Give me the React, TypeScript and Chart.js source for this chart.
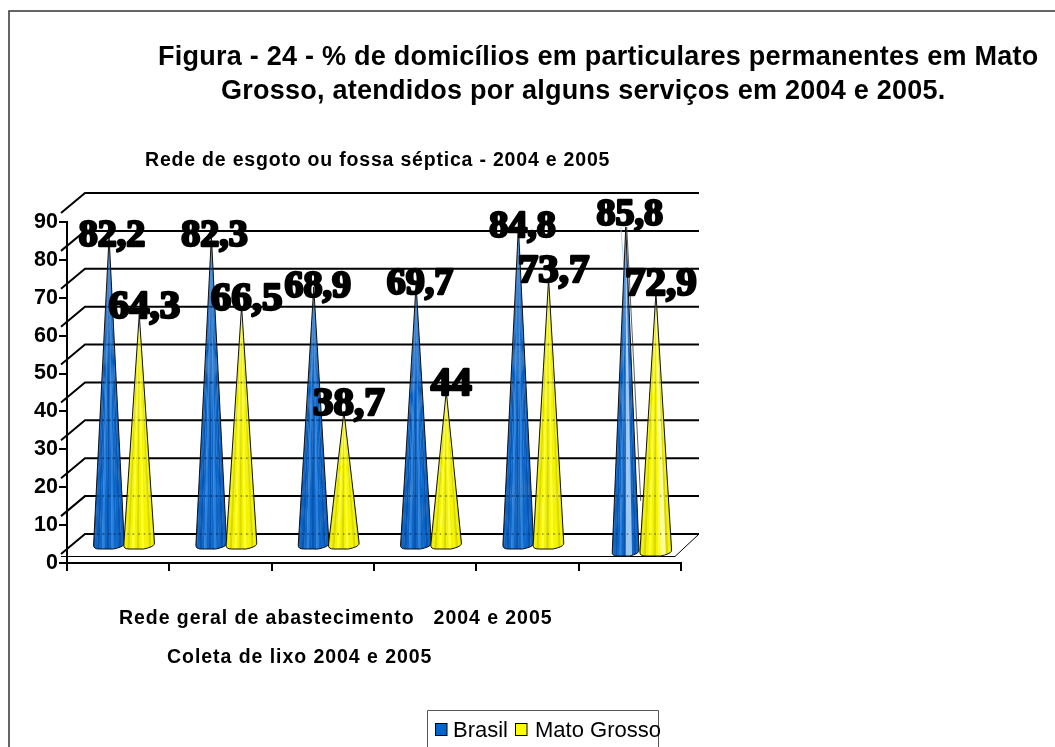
import React, { useEffect, useRef } from "react";
import { Chart, registerables } from "chart.js";

Chart.register(...registerables);

const categories = [
  "Rede de esgoto ou fossa séptica 2004",
  "Rede de esgoto ou fossa séptica 2005",
  "Rede geral de abastecimento 2004",
  "Rede geral de abastecimento 2005",
  "Coleta de lixo 2004",
  "Coleta de lixo 2005",
];
const brasil = [82.2, 82.3, 68.9, 69.7, 84.8, 85.8];
const matoGrosso = [64.3, 66.5, 38.7, 44, 73.7, 72.9];
const valueTicks = [0, 10, 20, 30, 40, 50, 60, 70, 80, 90];

const titleLines = [
  "Figura - 24 - % de domicílios em particulares permanentes em Mato",
  "Grosso, atendidos por alguns serviços em 2004 e 2005.",
];
const topCaption = "Rede de esgoto ou fossa séptica - 2004 e 2005";
const bottomCaptionA = "Rede geral de abastecimento   2004 e 2005";
const bottomCaptionB = "Coleta de lixo 2004 e 2005";

const SANS = '"Liberation Sans", Arial, sans-serif';
const SERIF = '"Liberation Serif", "Times New Roman", serif';

// Style per dataset: [dark, mid, light]
const conePalette = [
  ["#0a55ad", "#0d66c8", "#2d83dc"],
  ["#d9d900", "#f4f400", "#ffff30"],
];
const legendColors = ["#0066cc", "#ffff00"];
const DEPTH_X = 18;
const DEPTH_Y = -29;

function drawCone(ctx: any, cx: number, tipY: number, baseY: number, hw: number, pal: string[], highlight: string | null, hlFrom: number, hlTo: number, scale: any) {
  const path = new Path2D();
  path.moveTo(cx, tipY);
  path.lineTo(cx + hw * 0.98, baseY - 6);
  path.quadraticCurveTo(cx + hw, baseY - 3, cx + hw * 0.55, baseY - 1);
  path.quadraticCurveTo(cx + hw * 0.3, baseY + 0.5, cx, baseY);
  path.lineTo(cx - hw * 0.65, baseY);
  path.quadraticCurveTo(cx - hw * 1.02, baseY, cx - hw, baseY - 4);
  path.closePath();

  ctx.save();
  ctx.clip(path);
  const n = 14;
  const seq = [0, 1, 0, 1, 2, 1, 0, 1, 2, 1, 1, 0, 1, 0];
  for (let i = 0; i < n; i++) {
    ctx.beginPath();
    ctx.moveTo(cx, tipY);
    ctx.lineTo(cx - hw * 1.1 + (2.2 * hw * i) / n, baseY + 2);
    ctx.lineTo(cx - hw * 1.1 + (2.2 * hw * (i + 1)) / n + 0.4, baseY + 2);
    ctx.closePath();
    ctx.fillStyle = highlight && i >= hlFrom && i <= hlTo ? highlight : pal[seq[i]];
    ctx.fill();
  }
  // grid lines faintly seen through the cone
  ctx.strokeStyle = "rgba(0,0,0,0.45)";
  ctx.lineWidth = 1.5;
  ctx.setLineDash([1.5, 4]);
  for (const v of valueTicks) {
    const y = scale.getPixelForValue(v) + DEPTH_Y;
    ctx.beginPath();
    ctx.moveTo(cx - hw - 2, y);
    ctx.lineTo(cx + hw + 2, y);
    ctx.stroke();
  }
  ctx.restore();

  ctx.save();
  ctx.strokeStyle = "#111";
  ctx.lineWidth = 1;
  ctx.stroke(path);
  ctx.restore();
}

const chrome3d = {
  id: "chrome3d",
  beforeDatasetsDraw(chart: any) {
    const { ctx, scales } = chart;
    const y = scales.y;
    const x = scales.x;
    ctx.save();
    ctx.strokeStyle = "#000";
    ctx.lineCap = "butt";
    valueTicks.forEach((v) => {
      const py = y.getPixelForValue(v);
      ctx.lineWidth = 2;
      ctx.beginPath();
      ctx.moveTo(x.left - 6, py - 9);
      ctx.lineTo(x.left + DEPTH_X, py + DEPTH_Y);
      ctx.lineTo(x.right + DEPTH_X, py + DEPTH_Y);
      ctx.stroke();
    });
    const base = y.getPixelForValue(0);
    ctx.lineWidth = 1;
    ctx.beginPath();
    ctx.moveTo(x.left - 6, base - 6.5);
    ctx.lineTo(x.right - 6, base - 6.5);
    ctx.lineTo(x.right + DEPTH_X, base + DEPTH_Y);
    ctx.stroke();
    ctx.restore();
  },
  beforeDatasetDraw() {
    return false; // marks are drawn as cones below, from the same elements
  },
  afterDatasetsDraw(chart: any) {
    const { ctx, scales } = chart;
    const y = scales.y;
    const shift = [6, 6, 6, 6, 6, 11];
    const floorLift = [14, 14, 14, 14, 14, 7];
    const tipLift = [
      [15, 15, 15, 15, 15, 11],
      [5, 5, 5, 5, 5, -6],
    ];
    chart.data.datasets.forEach((ds: any, di: number) => {
      const meta = chart.getDatasetMeta(di);
      meta.data.forEach((el: any, i: number) => {
        const last = i === 5;
        const hw = last ? (di === 0 ? 13.5 : 16) : 15.5;
        const hl = last ? (di === 0 ? "#9cc6f2" : "#ffffa0") : null;
        const pal = conePalette[di];
        const cx = el.x + shift[i];
        const tipY = el.y - tipLift[di][i];
        const baseY = y.getPixelForValue(0) - floorLift[i];
        if (last && di === 0) {
          ctx.save();
          ctx.strokeStyle = "#333";
          ctx.lineWidth = 0.8;
          ctx.beginPath();
          ctx.moveTo(cx + 1, tipY);
          ctx.lineTo(cx + 15, baseY - 55);
          ctx.stroke();
          ctx.strokeStyle = "#9cc6f2";
          ctx.beginPath();
          ctx.moveTo(cx - 5, tipY);
          ctx.lineTo(cx - 1, tipY + 50);
          ctx.stroke();
          ctx.restore();
        }
        drawCone(ctx, cx, tipY, baseY, hw, pal, hl, di === 0 ? 7 : 9, di === 0 ? 9 : 10, y);
      });
    });
    // value labels
    const labelLift = [
      [0, 0, 0, 0, 0, 12],
      [7, 7, 7, 7, 7, 8],
    ];
    ctx.save();
    ctx.textAlign = "center";
    ctx.textBaseline = "middle";
    ctx.fillStyle = "#000";
    ctx.strokeStyle = "#000";
    ctx.lineJoin = "round";
    chart.data.datasets.forEach((ds: any, di: number) => {
      const meta = chart.getDatasetMeta(di);
      ctx.font = `bold ${di === 0 ? 38 : 41}px ${SERIF}`;
      ctx.lineWidth = 2.6;
      meta.data.forEach((el: any, i: number) => {
        const txt = String(ds.data[i]).replace(".", ",");
        const cx = el.x + shift[i] + (di === 0 ? 4 : 5) - (i < 2 && di === 0 ? 1 : 0);
        const py = el.y - tipLift[di][i] - labelLift[di][i];
        ctx.strokeText(txt, cx, py);
        ctx.fillText(txt, cx, py);
      });
    });
    ctx.restore();
  },
  afterDraw(chart: any) {
    const { ctx } = chart;
    ctx.save();
    ctx.fillStyle = "#000";
    ctx.textAlign = "left";
    ctx.textBaseline = "alphabetic";
    ctx.strokeStyle = "#333";
    ctx.lineWidth = 1.5;
    ctx.beginPath();
    ctx.moveTo(9, 747);
    ctx.lineTo(9, 11);
    ctx.lineTo(1055, 11);
    ctx.stroke();
    ctx.font = `bold 27px ${SANS}`;
    ctx.letterSpacing = "0.25px";
    ctx.fillText(titleLines[0], 158, 65);
    ctx.fillText(titleLines[1], 221, 99);
    ctx.font = `bold 19.5px ${SANS}`;
    ctx.letterSpacing = "0.8px";
    ctx.fillText(topCaption, 145, 166);
    ctx.letterSpacing = "0.95px";
    ctx.fillText(bottomCaptionA, 119, 624);
    ctx.fillText(bottomCaptionB, 167, 663);
    ctx.letterSpacing = "0px";
    ctx.strokeStyle = "#555";
    ctx.lineWidth = 1;
    ctx.beginPath();
    ctx.moveTo(427.5, 747);
    ctx.lineTo(427.5, 710.5);
    ctx.lineTo(658.5, 710.5);
    ctx.lineTo(658.5, 747);
    ctx.stroke();
    ctx.strokeStyle = "#000";
    ctx.font = `22px ${SANS}`;
    const items = [
      { x: 435.5, tx: 453 },
      { x: 515.5, tx: 535 },
    ];
    chart.data.datasets.forEach((ds: any, di: number) => {
      ctx.fillStyle = legendColors[di];
      ctx.fillRect(items[di].x, 723.5, 11.5, 12);
      ctx.strokeRect(items[di].x, 723.5, 11.5, 12);
      ctx.fillStyle = "#000";
      ctx.fillText(ds.label, items[di].tx, 737);
    });
    ctx.restore();
  },
};

export default function App() {
  const ref = useRef<HTMLCanvasElement>(null);
  useEffect(() => {
    document.body.style.margin = "0";
    const chart = new Chart(ref.current as HTMLCanvasElement, {
      type: "bar",
      data: {
        labels: categories,
        datasets: [
          { label: "Brasil", data: brasil, backgroundColor: legendColors[0], categoryPercentage: 0.59, barPercentage: 1 },
          { label: "Mato Grosso", data: matoGrosso, backgroundColor: legendColors[1], categoryPercentage: 0.59, barPercentage: 1 },
        ],
      },
      options: {
        animation: false,
        responsive: false,
        layout: { padding: { left: 0, right: 374, top: 222, bottom: 184 } },
        plugins: { legend: { display: false }, title: { display: false }, tooltip: { enabled: false } },
        scales: {
          x: {
            afterFit(s: any) { s.height = 0; },
            grid: { drawOnChartArea: false, drawTicks: true, tickLength: 8, color: "#000", lineWidth: 2 },
            border: { color: "#000", width: 2 },
            ticks: { display: false, autoSkip: false },
          },
          y: {
            min: 0,
            max: 90,
            afterFit(s: any) { s.width = 67; },
            grid: { drawOnChartArea: false, drawTicks: true, tickLength: 8, color: "#000", lineWidth: 2 },
            border: { color: "#000", width: 2 },
            ticks: { stepSize: 10, color: "#000", padding: 1, font: { family: SANS, size: 21.5, weight: "bold" } },
          },
        },
      },
      plugins: [chrome3d],
    } as any);
    return () => chart.destroy();
  }, []);
  return <canvas ref={ref} width={1055} height={747} style={{ display: "block" }} />;
}
